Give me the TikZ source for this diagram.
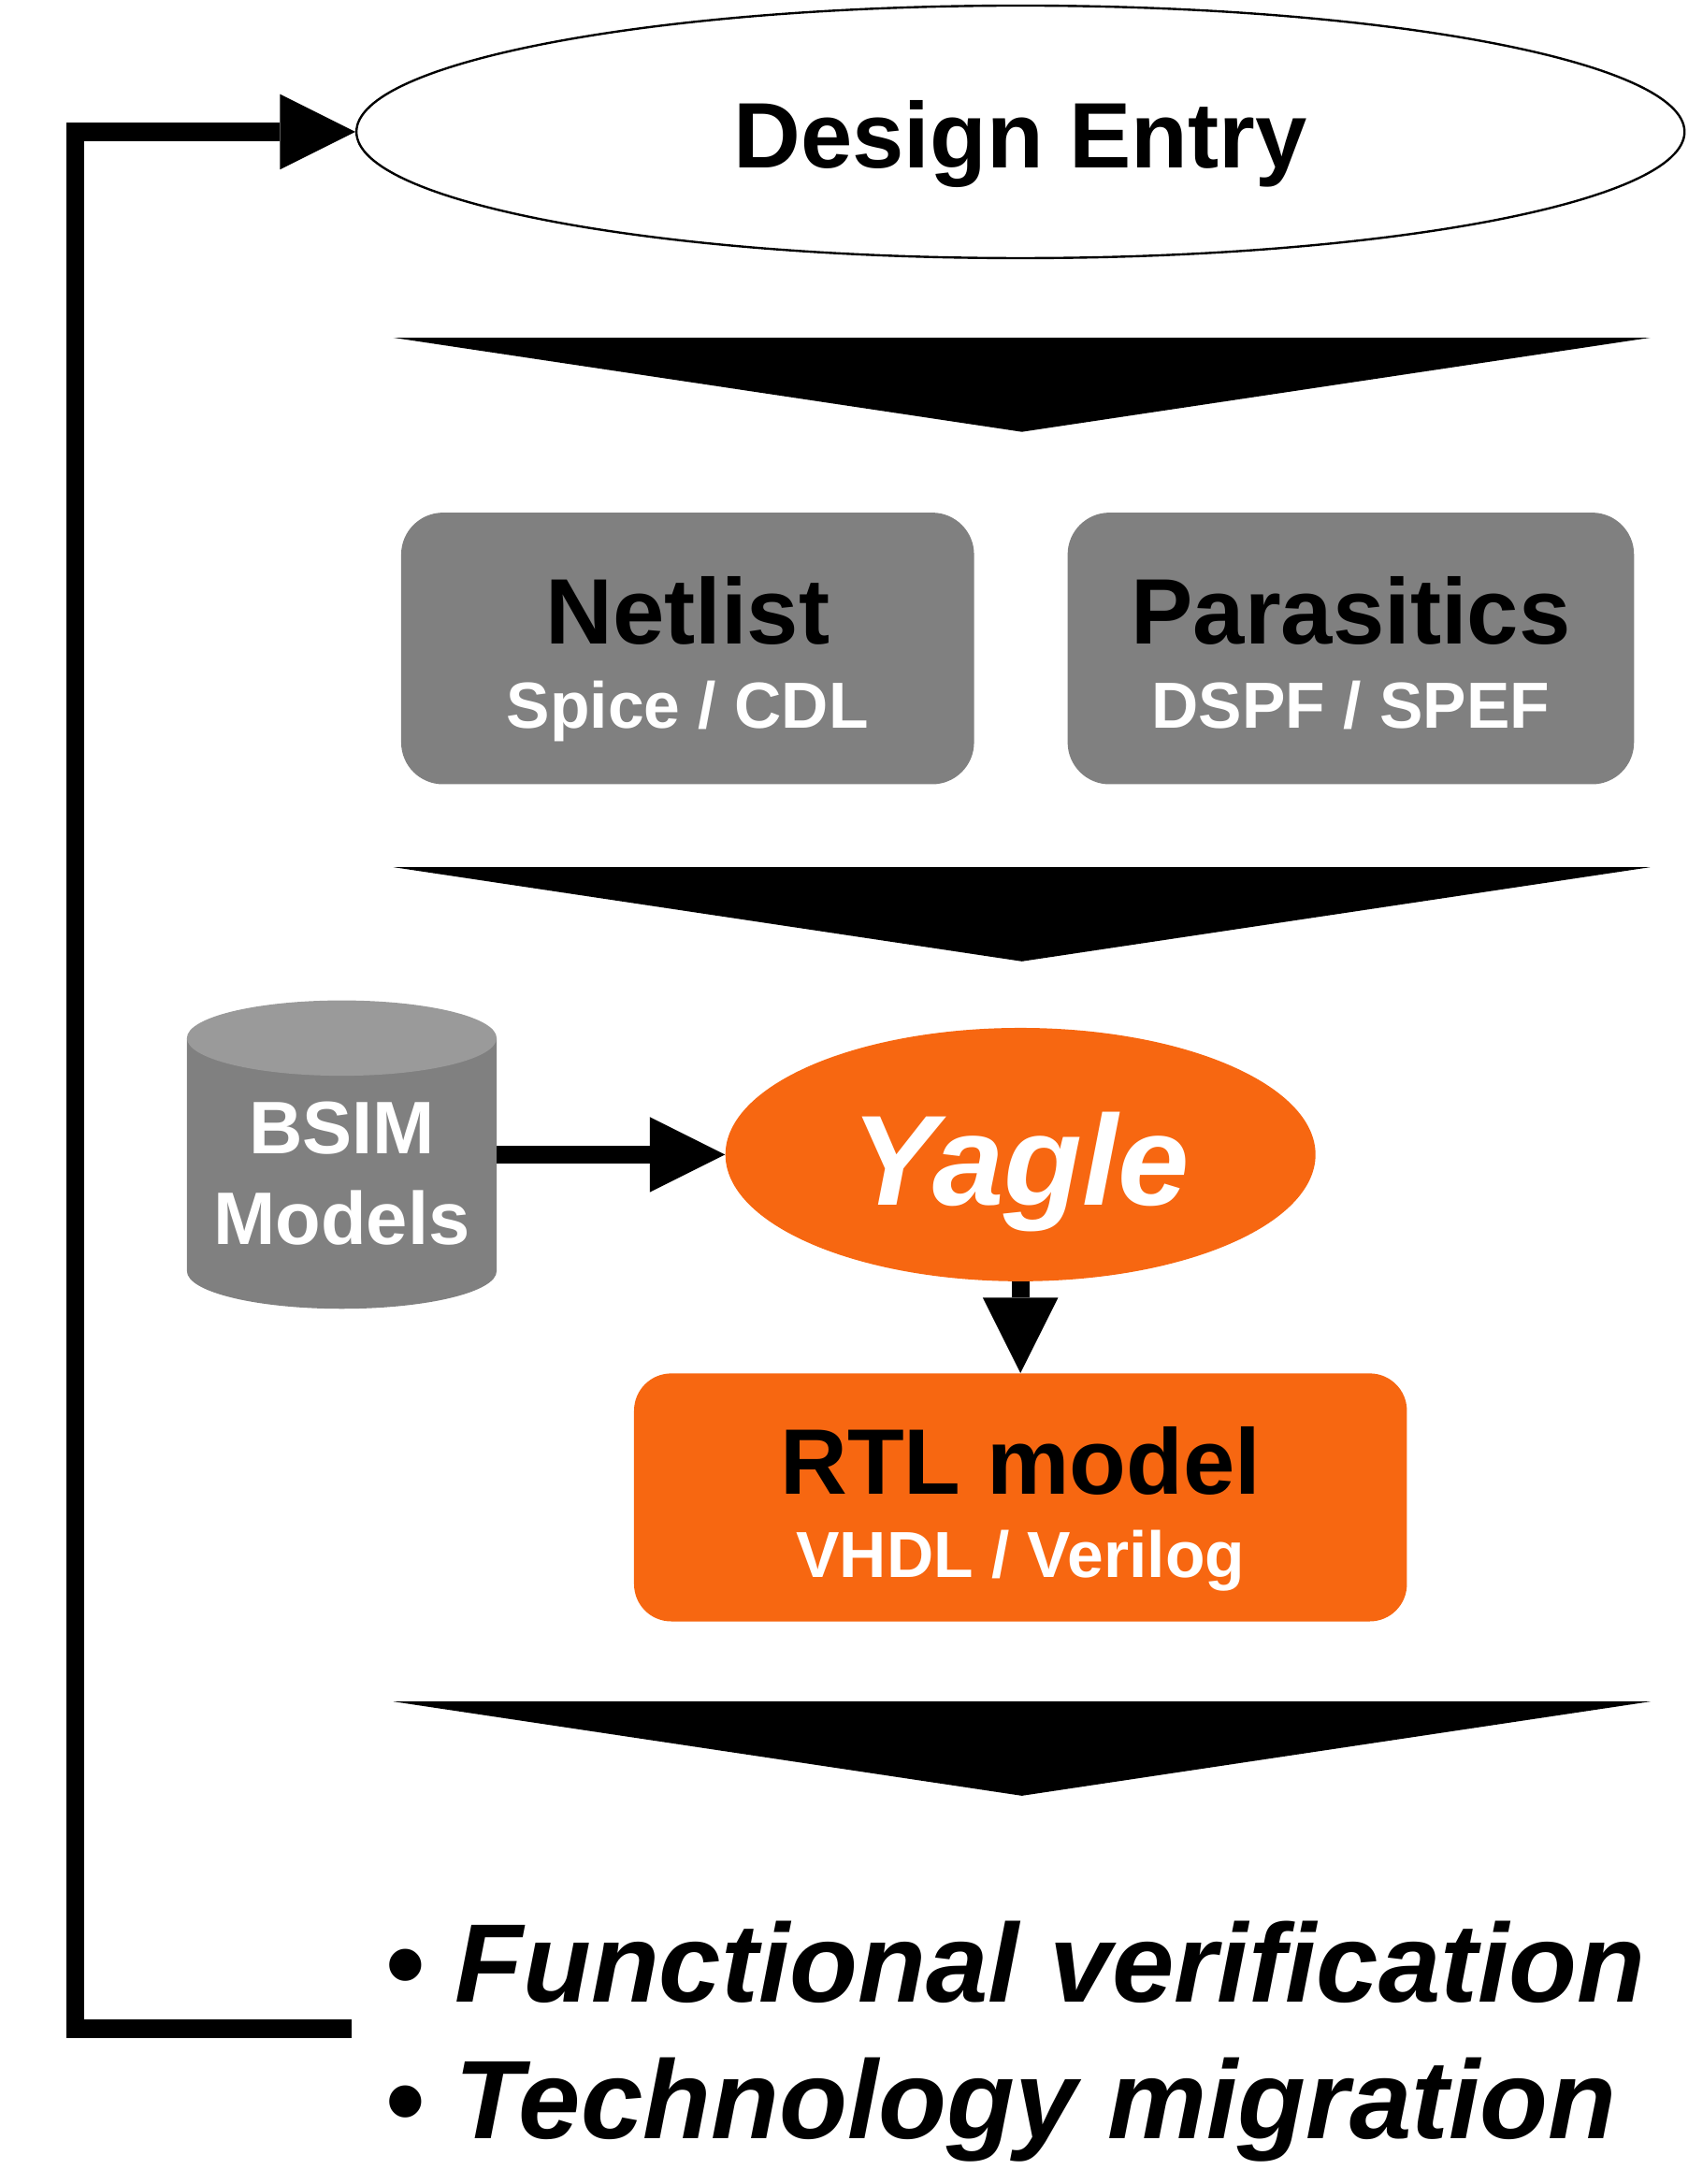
\documentclass[tikz,border=0pt]{standalone}
\usepackage{fontspec}
\setmainfont{Liberation Sans}
\usetikzlibrary{shapes.geometric,arrows.meta}

\definecolor{boxgray}{HTML}{808080}
\definecolor{captop}{HTML}{9A9A9A}
\definecolor{yagleorange}{HTML}{F76711}

\newcommand\fmtline[1]{{\fontsize{35}{42}\selectfont\color{white}#1}}

\begin{document}
\begin{tikzpicture} [x=0.75pt, y=0.75pt,
	every node/.style = {align=center, inner sep=0pt, font=\bfseries\fontsize{50}{45}\selectfont},
	flow/.style = {line width=9.75pt, -{Triangle[length=40.5pt, width=40.5pt, line width=0pt]}},
	graybox/.style = {shape=rectangle, rounded corners=22.5pt, fill=boxgray, minimum width=308pt, minimum height=146pt, text height=93.4pt, text depth=8pt}]
			\useasboundingbox (0,0) rectangle (1210,-1565.3);

			\node (entry) [shape=ellipse, draw, line width=1.2pt, minimum width=714pt, minimum height=135.75pt, text height=48.6pt, text depth=10pt] at (731.5,-94.5) {Design Entry};
			\fill (282,-242) -- (1183,-242) -- (732.5,-309.5) -- cycle;

			\node (netlist) [graybox] at (492.9,-464.75) {Netlist\\ \fmtline{Spice / CDL}};
			\node (parasitics) [graybox, minimum width=304.5pt] at (968.3,-464.75) {Parasitics\\ \fmtline{DSPF / SPEF}};
			\fill (282,-621.5) -- (1183,-621.5) -- (732.5,-689) -- cycle;

			% BSIM cylinder
			\fill [boxgray] (134,-744) -- (134,-911) arc [start angle=180, end angle=360, x radius=111, y radius=27] -- (356,-744) -- cycle;
			\fill [captop] (245,-744) ellipse [x radius=111, y radius=27];
			\node (bsim) [minimum width=166.5pt, minimum height=165pt, text height=104.75pt, text depth=8pt, text=white, font=\bfseries\fontsize{40}{48.75}\selectfont] at (245,-827.5) {BSIM\\Models};

			\node (yagle) [shape=ellipse, fill=yagleorange, minimum width=317.25pt, minimum height=136.2pt, text height=69pt, text depth=15pt, text=white, font=\bfseries\itshape\fontsize{69}{80}\selectfont] at (731.5,-827.5) {Yagle};
			\node (rtl) [shape=rectangle, rounded corners=20pt, fill=yagleorange, minimum width=415.5pt, minimum height=133.3pt, text height=94.25pt, text depth=8pt] at (731.5,-1073.2) {RTL model\\ \fmtline{VHDL / Verilog}};
			\fill (282,-1219.5) -- (1183,-1219.5) -- (732.5,-1287) -- cycle;

			\node (uses) [anchor=west, align=left, text height=132.75pt, text depth=15pt, font=\bfseries\itshape\fontsize{60}{73}\selectfont] at (275.5,-1454) {\textbullet\ Functional verification\\ \textbullet\ Technology migration};

			% connectors
			\draw [flow] (bsim.east) -- (yagle.west);
			\draw [flow] (yagle.south) -- (rtl.north);
			\coordinate (loopstart) at (252,-1454);
			\coordinate (loopcorner) at (54,-1454);
			\draw [flow] (loopstart) -- (loopcorner) |- (entry.west);
		\end{tikzpicture}
\end{document}
